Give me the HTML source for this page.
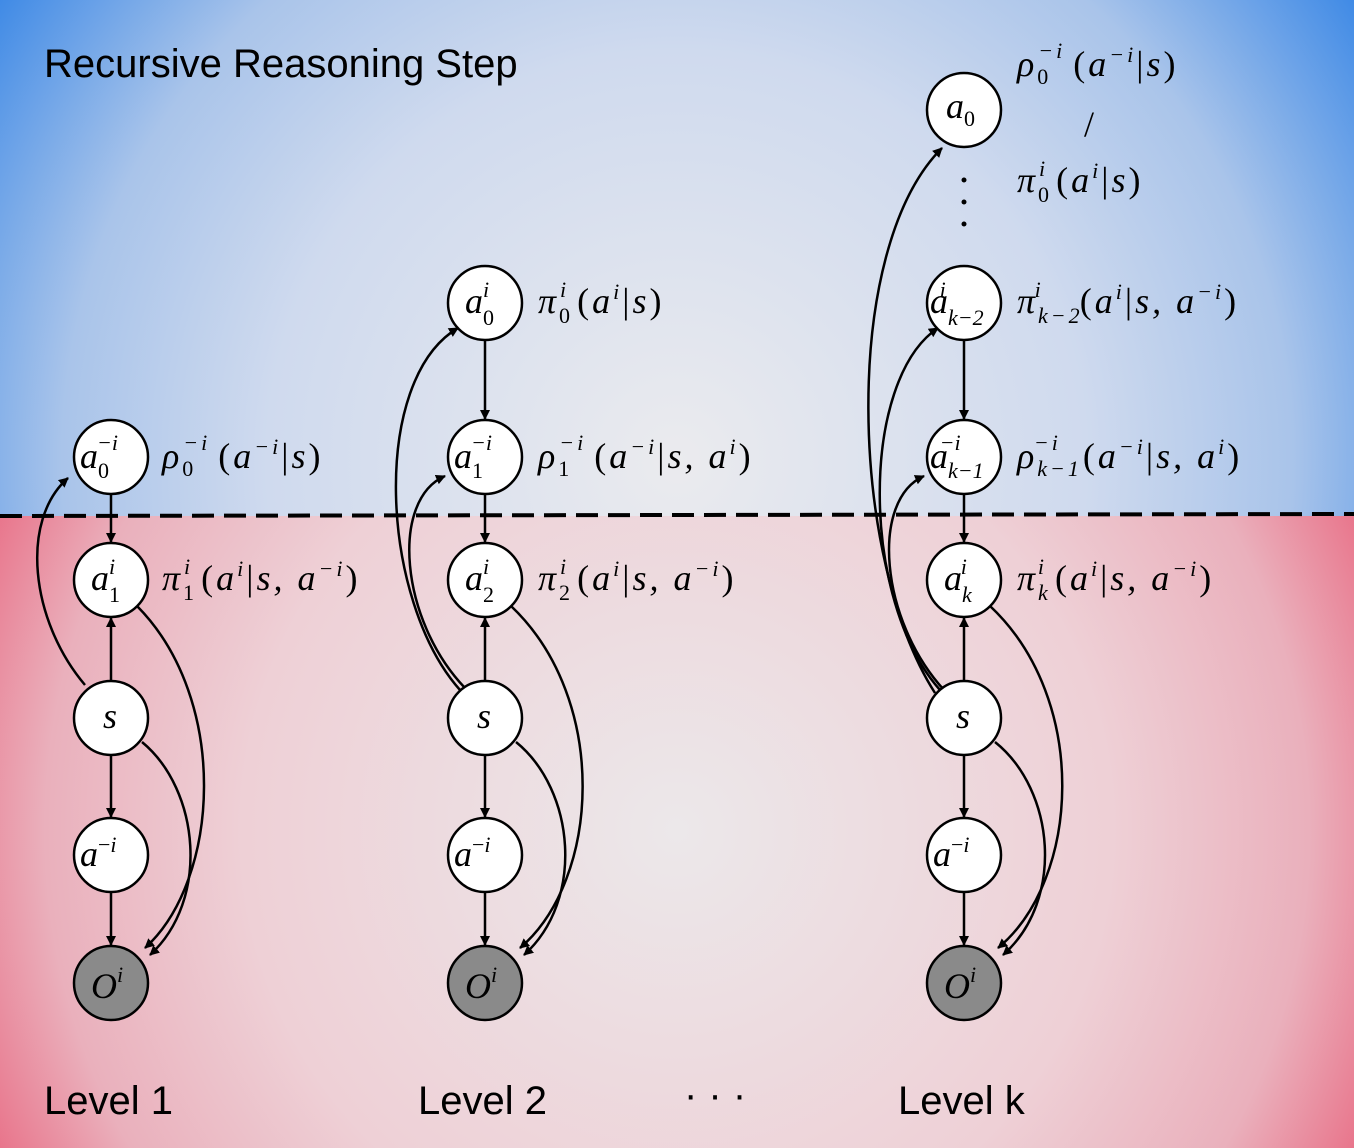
<!DOCTYPE html>
<html><head><meta charset="utf-8"><style>
html,body{margin:0;padding:0;background:#fff}
svg{display:block}
.m{font-family:"Liberation Serif",serif;font-size:36px;fill:#000}
.p{letter-spacing:3px}
.i{font-style:italic}
.lab{font-family:"Liberation Sans",sans-serif;font-size:40px;fill:#000}
</style></head><body>
<svg width="1354" height="1148" viewBox="0 0 1354 1148" xmlns="http://www.w3.org/2000/svg">
<defs>
<radialGradient id="gb" gradientUnits="userSpaceOnUse" cx="677" cy="460" r="820">
<stop offset="0" stop-color="#ebebee"/><stop offset="0.5" stop-color="#cfdaee"/><stop offset="0.75" stop-color="#a9c4ea"/><stop offset="1" stop-color="#3f8ae6"/></radialGradient>
<radialGradient id="gr" gradientUnits="userSpaceOnUse" cx="677" cy="830" r="790">
<stop offset="0" stop-color="#ece8ea"/><stop offset="0.55" stop-color="#eed0d6"/><stop offset="0.8" stop-color="#eab0bc"/><stop offset="1" stop-color="#e8607a"/></radialGradient>
<marker id="ar" markerWidth="10" markerHeight="10" refX="9" refY="5" orient="auto" markerUnits="userSpaceOnUse"><path d="M0,0 L10,5 L0,10 Z" fill="#000"/></marker>
</defs>
<rect x="0" y="0" width="1354" height="516" fill="url(#gb)"/>
<rect x="0" y="516" width="1354" height="632" fill="url(#gr)"/>
<line x1="0" y1="516" x2="1354" y2="514" stroke="#000" stroke-width="4" stroke-dasharray="22,10"/>
<text class="lab" x="44" y="77">Recursive Reasoning Step</text>
<g fill="none" stroke="#000" stroke-width="2.5" marker-end="url(#ar)">
<line x1="111" y1="494" x2="111" y2="542"/>
<line x1="111" y1="681" x2="111" y2="618"/>
<line x1="111" y1="755" x2="111" y2="817"/>
<line x1="111" y1="892" x2="111" y2="945"/>
<path d="M85,685 C30,620 20,520 68,478"/>
<path d="M137,606 C230,700 220,880 145,948"/>
<path d="M142,742 C200,790 210,900 150,955"/>
<line x1="485" y1="340" x2="485" y2="419"/>
<line x1="485" y1="494" x2="485" y2="542"/>
<line x1="485" y1="681" x2="485" y2="618"/>
<line x1="485" y1="755" x2="485" y2="817"/>
<line x1="485" y1="892" x2="485" y2="945"/>
<path d="M460,690 C380,600 370,380 458,328"/>
<path d="M465,688 C400,620 390,500 445,476"/>
<path d="M511,606 C610,700 600,880 520,948"/>
<path d="M516,742 C575,790 585,900 524,955"/>
<line x1="964" y1="340" x2="964" y2="419"/>
<line x1="964" y1="494" x2="964" y2="542"/>
<line x1="964" y1="681" x2="964" y2="618"/>
<line x1="964" y1="755" x2="964" y2="817"/>
<line x1="964" y1="892" x2="964" y2="945"/>
<path d="M935,693 C850,560 840,250 942,148"/>
<path d="M940,690 C860,600 860,380 938,328"/>
<path d="M944,690 C880,620 870,500 924,476"/>
<path d="M990,606 C1090,700 1080,880 998,948"/>
<path d="M995,742 C1055,790 1065,900 1003,955"/>
</g>
<g stroke="#000" stroke-width="2.5">
<circle cx="111" cy="457" r="37" fill="#fff"/><circle cx="111" cy="580" r="37" fill="#fff"/><circle cx="111" cy="718" r="37" fill="#fff"/><circle cx="111" cy="855" r="37" fill="#fff"/><circle cx="111" cy="983" r="37" fill="#8a8a8a"/>
<circle cx="485" cy="303" r="37" fill="#fff"/><circle cx="485" cy="457" r="37" fill="#fff"/><circle cx="485" cy="580" r="37" fill="#fff"/><circle cx="485" cy="718" r="37" fill="#fff"/><circle cx="485" cy="855" r="37" fill="#fff"/><circle cx="485" cy="983" r="37" fill="#8a8a8a"/>
<circle cx="964" cy="110" r="37" fill="#fff"/><circle cx="964" cy="303" r="37" fill="#fff"/><circle cx="964" cy="457" r="37" fill="#fff"/><circle cx="964" cy="580" r="37" fill="#fff"/><circle cx="964" cy="718" r="37" fill="#fff"/><circle cx="964" cy="855" r="37" fill="#fff"/><circle cx="964" cy="983" r="37" fill="#8a8a8a"/>
</g>
<g class="m">
<text x="80" y="468" class="i">a<tspan font-size="22" dy="10" font-style="normal">0</tspan><tspan font-size="22" dx="-12" dy="-28">−i</tspan></text>
<text x="91" y="590" class="i">a<tspan font-size="22" dy="12" font-style="normal">1</tspan><tspan font-size="22" dx="-11" dy="-28">i</tspan></text>
<text x="103" y="728" class="i">s</text>
<text x="80" y="866" class="i">a<tspan font-size="22" dy="-14" font-style="normal">−</tspan><tspan font-size="22">i</tspan></text>
<text x="91" y="998" class="i">O<tspan font-size="22" dy="-16">i</tspan></text>
<text x="465" y="313" class="i">a<tspan font-size="22" dy="12" font-style="normal">0</tspan><tspan font-size="22" dx="-11" dy="-28">i</tspan></text>
<text x="454" y="468" class="i">a<tspan font-size="22" dy="10" font-style="normal">1</tspan><tspan font-size="22" dx="-12" dy="-28">−i</tspan></text>
<text x="465" y="590" class="i">a<tspan font-size="22" dy="12" font-style="normal">2</tspan><tspan font-size="22" dx="-11" dy="-28">i</tspan></text>
<text x="477" y="728" class="i">s</text>
<text x="454" y="866" class="i">a<tspan font-size="22" dy="-14" font-style="normal">−</tspan><tspan font-size="22">i</tspan></text>
<text x="465" y="998" class="i">O<tspan font-size="22" dy="-16">i</tspan></text>
<text x="946" y="118" class="i">a<tspan font-size="22" dy="8" font-style="normal">0</tspan></text>
<text x="930" y="313" class="i">a<tspan font-size="22" dy="12">k−2</tspan><tspan font-size="22" dx="-44" dy="-28">i</tspan></text>
<text x="930" y="468" class="i">a<tspan font-size="22" dy="10">k−1</tspan><tspan font-size="22" dx="-44" dy="-28">−i</tspan></text>
<text x="944" y="590" class="i">a<tspan font-size="22" dy="12">k</tspan><tspan font-size="22" dx="-11" dy="-28">i</tspan></text>
<text x="956" y="728" class="i">s</text>
<text x="933" y="866" class="i">a<tspan font-size="22" dy="-14" font-style="normal">−</tspan><tspan font-size="22">i</tspan></text>
<text x="944" y="998" class="i">O<tspan font-size="22" dy="-16">i</tspan></text>
</g>
<g fill="#000"><circle cx="964" cy="180" r="2.5"/><circle cx="964" cy="202" r="2.5"/><circle cx="964" cy="224" r="2.5"/></g>
<g class="m p">
<text x="162" y="468"><tspan class="i">ρ</tspan><tspan font-size="22" dy="8">0</tspan><tspan font-size="22" dx="-13" dy="-26" class="i">−i</tspan><tspan dx="8" dy="18">(</tspan><tspan class="i">a</tspan><tspan font-size="22" dy="-14" class="i">−i</tspan><tspan dy="14">|</tspan><tspan class="i">s</tspan>)</text>
<text x="162" y="590"><tspan class="i">π</tspan><tspan font-size="22" dy="10">1</tspan><tspan font-size="22" dx="-13" dy="-26" class="i">i</tspan><tspan dx="8" dy="16">(</tspan><tspan class="i">a</tspan><tspan font-size="22" dy="-14" class="i">i</tspan><tspan dy="14">|</tspan><tspan class="i">s, a</tspan><tspan font-size="22" dy="-14" class="i">−i</tspan><tspan dy="14">)</tspan></text>
<text x="538" y="313"><tspan class="i">π</tspan><tspan font-size="22" dy="10">0</tspan><tspan font-size="22" dx="-13" dy="-26" class="i">i</tspan><tspan dx="8" dy="16">(</tspan><tspan class="i">a</tspan><tspan font-size="22" dy="-14" class="i">i</tspan><tspan dy="14">|</tspan><tspan class="i">s</tspan>)</text>
<text x="538" y="468"><tspan class="i">ρ</tspan><tspan font-size="22" dy="8">1</tspan><tspan font-size="22" dx="-13" dy="-26" class="i">−i</tspan><tspan dx="8" dy="18">(</tspan><tspan class="i">a</tspan><tspan font-size="22" dy="-14" class="i">−i</tspan><tspan dy="14">|</tspan><tspan class="i">s, a</tspan><tspan font-size="22" dy="-14" class="i">i</tspan><tspan dy="14">)</tspan></text>
<text x="538" y="590"><tspan class="i">π</tspan><tspan font-size="22" dy="10">2</tspan><tspan font-size="22" dx="-13" dy="-26" class="i">i</tspan><tspan dx="8" dy="16">(</tspan><tspan class="i">a</tspan><tspan font-size="22" dy="-14" class="i">i</tspan><tspan dy="14">|</tspan><tspan class="i">s, a</tspan><tspan font-size="22" dy="-14" class="i">−i</tspan><tspan dy="14">)</tspan></text>
<text x="1017" y="76"><tspan class="i">ρ</tspan><tspan font-size="22" dy="8">0</tspan><tspan font-size="22" dx="-13" dy="-26" class="i">−i</tspan><tspan dx="8" dy="18">(</tspan><tspan class="i">a</tspan><tspan font-size="22" dy="-14" class="i">−i</tspan><tspan dy="14">|</tspan><tspan class="i">s</tspan>)</text>
<text x="1084" y="136">/</text>
<text x="1017" y="192"><tspan class="i">π</tspan><tspan font-size="22" dy="10">0</tspan><tspan font-size="22" dx="-13" dy="-26" class="i">i</tspan><tspan dx="8" dy="16">(</tspan><tspan class="i">a</tspan><tspan font-size="22" dy="-14" class="i">i</tspan><tspan dy="14">|</tspan><tspan class="i">s</tspan>)</text>
<text x="1017" y="313"><tspan class="i">π</tspan><tspan font-size="22" dy="10" class="i">k−2</tspan><tspan font-size="22" dx="-48" dy="-26" class="i">i</tspan><tspan dx="36" dy="16">(</tspan><tspan class="i">a</tspan><tspan font-size="22" dy="-14" class="i">i</tspan><tspan dy="14">|</tspan><tspan class="i">s, a</tspan><tspan font-size="22" dy="-14" class="i">−i</tspan><tspan dy="14">)</tspan></text>
<text x="1017" y="468"><tspan class="i">ρ</tspan><tspan font-size="22" dy="8" class="i">k−1</tspan><tspan font-size="22" dx="-48" dy="-26" class="i">−i</tspan><tspan dx="22" dy="18">(</tspan><tspan class="i">a</tspan><tspan font-size="22" dy="-14" class="i">−i</tspan><tspan dy="14">|</tspan><tspan class="i">s, a</tspan><tspan font-size="22" dy="-14" class="i">i</tspan><tspan dy="14">)</tspan></text>
<text x="1017" y="590"><tspan class="i">π</tspan><tspan font-size="22" dy="10" class="i">k</tspan><tspan font-size="22" dx="-13" dy="-26" class="i">i</tspan><tspan dx="8" dy="16">(</tspan><tspan class="i">a</tspan><tspan font-size="22" dy="-14" class="i">i</tspan><tspan dy="14">|</tspan><tspan class="i">s, a</tspan><tspan font-size="22" dy="-14" class="i">−i</tspan><tspan dy="14">)</tspan></text>
</g>
<text class="lab" x="44" y="1114">Level 1</text>
<text class="lab" x="418" y="1114">Level 2</text>
<text class="lab" x="684" y="1108">· · ·</text>
<text class="lab" x="898" y="1114">Level k</text>
</svg>
</body></html>
